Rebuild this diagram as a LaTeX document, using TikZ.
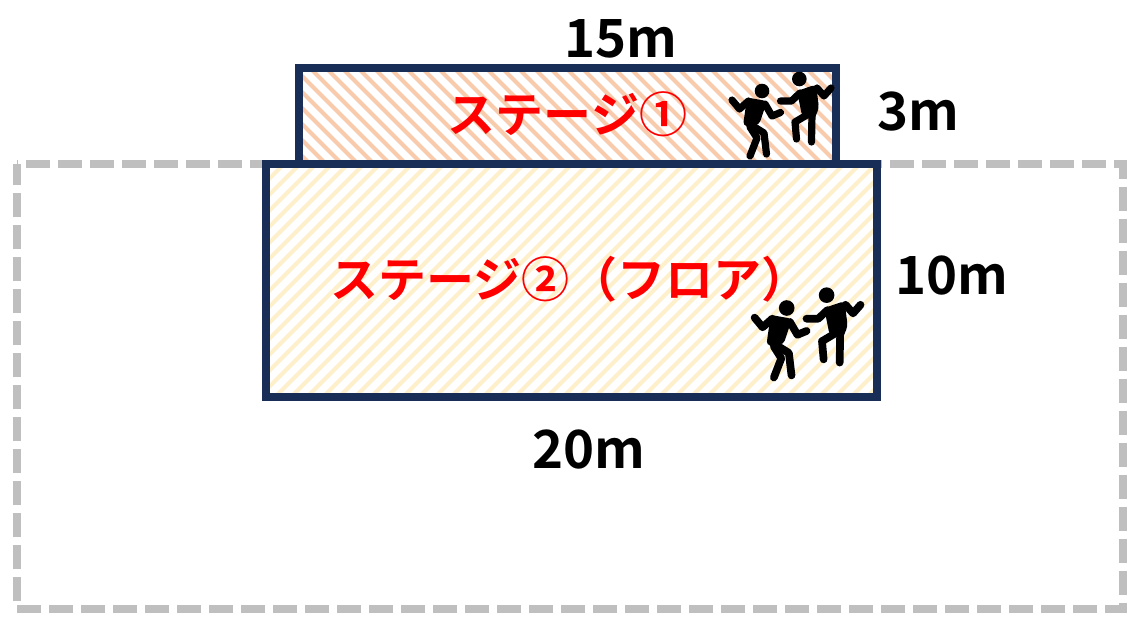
\documentclass[tikz,border=0pt]{standalone}
\usepackage{xcolor}
\usepackage{fontspec}
\setmainfont{Noto Sans CJK JP}[BoldFont={Noto Sans CJK JP Bold}]
\definecolor{navyline}{RGB}{24,46,86}
\definecolor{hallgray}{RGB}{191,191,191}
\definecolor{stripeone}{RGB}{248,203,173}
\definecolor{stripetwo}{RGB}{255,240,204}
\definecolor{stagered}{RGB}{255,0,0}
\tikzset{
    stagebox/.style={draw=navyline, line width=6pt, miter limit=10},
    hallbox/.style={draw=hallgray, line width=6pt, dash pattern=on 18pt off 6pt, dash phase=17.25pt},
    stripe/.style={line width=3pt},
    sizelabel/.style={font=\bfseries\fontsize{39.5}{39.5}\selectfont, inner sep=0pt},
    stagelabel/.style={font=\bfseries\fontsize{36}{36}\selectfont, text=stagered, inner sep=0pt},
    pics/dancers/.style={code={
        \tikzset{limb/.style={line width=#1*5.4pt, line cap=round, line join=round}}
        % left dancer
        \fill (0,0) circle (7.3);
        \draw[limb] (-30,9) -- (-22.5,18) -- (-13.5,10);
        \draw[limb] (3,13) -- (10,25) -- (18.5,21.5);
        \fill[rounded corners=3pt] (-15,6.5) -- (5,10) -- (-3,34) -- (-19,35) -- cycle;
        \draw[limb] (-14,32) -- (2,42) -- (4.5,63);
        \draw[limb] (-12,36) -- (-5,47) -- (-12,65);
        % right dancer
        \fill (37.3,-12) circle (7.3);
        \draw[limb] (18.5,10) -- (29.5,10) -- (38,2);
        \draw[limb] (55,-3) -- (62,5) -- (69,-3);
        \fill[rounded corners=3pt] (35,0) -- (54,-6.5) -- (57,17) -- (52,29) -- (40,25) -- cycle;
        \draw[limb] (50,21) -- (33,31) -- (34.5,48);
        \draw[limb] (50,22) -- (49.5,51);
    }},
}
\begin{document}
\begin{tikzpicture}[x=0.75pt, y=-0.75pt]
    \useasboundingbox (0,0) rectangle (1138,625);
    % Outer hall outline
    \draw[hallbox] (17,164) -- (1123,164) -- (1123,609) -- (17,609) -- cycle;

    % Stage 1
    \fill[white] (299,68) rectangle (836,164);
    \begin{scope}
        \clip (299,68) rectangle (836,164);
        \foreach \x in {174,190,...,846}
            \draw[stripe, stripeone] (\x,60) -- ++(120,120);
    \end{scope}
    \draw[stagebox] (299,68) rectangle (836,164);

    % Stage 2
    \fill[white] (266,164) rectangle (877,397);
    \begin{scope}
        \clip (266,164) rectangle (877,397);
        \foreach \x in {272,288,...,1152}
            \draw[stripe, stripetwo] (\x,160) -- ++(-250,250);
    \end{scope}
    \draw[stagebox] (266,164) rectangle (877,397);

    % Dancers
    \pic at (762,91) {dancers=1};
    \pic[scale=1.07] at (786.7,308) {dancers=1.07};

    % Stage labels
    \node[stagelabel] (stageone) at (567.5,114) {ステージ①};
    \node[stagelabel] (stagetwo) at (570,279) {ステージ②（フロア）};

    % Size labels
    \node[sizelabel] (topwidth) at (620.5,38.5) {15m};
    \node[sizelabel] (topdepth) at (918,111.5) {3m};
    \node[sizelabel] (bottomdepth) at (952,276) {10m};
    \node[sizelabel] (bottomwidth) at (589,450) {20m};
\end{tikzpicture}
\end{document}
